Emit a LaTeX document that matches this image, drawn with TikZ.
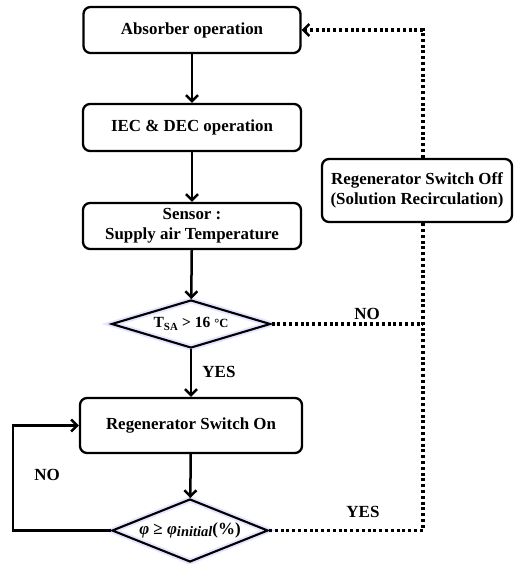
\documentclass[tikz,border=0pt]{standalone}
\usepackage{fontspec}
\setmainfont{Liberation Serif}
\usetikzlibrary{shapes.geometric,arrows.meta}
\begin{document}
\begin{tikzpicture}[x=1pt,y=-1pt,
  proc/.style={draw, rounded corners=7pt, line width=2.3pt, align=center, inner sep=0pt,
    font=\fontsize{16.9}{20}\selectfont\bfseries},
  decis/.style={draw, diamond, shape aspect=3.3, line width=2.1pt, inner sep=0pt,
    preaction={draw=blue!10, line width=6pt},
    font=\fontsize{15.5}{18}\selectfont\bfseries},
  flow/.style={line width=2.5pt, -{Straight Barb[length=6pt,width=12pt]}},
  dots/.style={line width=3.2pt, dash pattern=on 3pt off 2.8pt},
  lbl/.style={font=\fontsize{17}{20}\selectfont\bfseries, inner sep=0pt}
]
\useasboundingbox (0,0) rectangle (516,564);
\node[proc, minimum width=217pt, minimum height=46pt] (a1) at (192,30) {Absorber operation};
\node[proc, minimum width=218pt, minimum height=47pt] (a2) at (192,127.5) {IEC \& DEC operation};
\node[proc, minimum width=218pt, minimum height=46pt] (a3) at (192,226) {Sensor :\\Supply air Temperature};
\node[decis, minimum width=159pt, minimum height=48pt] (d1) at (191,324) {T\textsubscript{SA} > 16 {\fontsize{12.5}{12}\selectfont °C}};
\node[proc, minimum width=222pt, minimum height=55pt] (a4) at (191,425.5) {Regenerator Switch On};
\node[decis, minimum width=156pt, minimum height=63pt, font=\fontsize{17}{18}\selectfont\bfseries] (d2) at (190,530.5) {\itshape φ {\upshape ≥} φ\raisebox{-1.5pt}{\fontsize{14.5}{14}\selectfont initial}{\upshape(\%)}};
\node[proc, minimum width=190pt, minimum height=63pt] (off) at (417,190.5) {Regenerator Switch Off\\(Solution Recirculation)};
\coordinate (vx) at (423,0);
\coordinate (lx) at (13,0);

\draw[flow] (a1) -- (a2);
\draw[flow] (a2) -- (a3);
\draw[flow] (a3) -- (d1);
\draw[flow] (d1) -- (a4);
\draw[flow] (a4) -- (d2);
\draw[flow] (d2.west) -- (d2.west -| lx) |- (a4.west);
\draw[dots] (d1.east) -- (d1.east -| vx);
\draw[dots] (d2.east) -| (off.south -| vx);
\draw[dots, -{Straight Barb[length=6pt,width=12pt,line width=2.4pt]}] (off.north -| vx) |- (a1.east);

\node[lbl] (yes1) at (219,372) {YES};
\node[lbl] (no1) at (367,314) {NO};
\node[lbl] (no2) at (47,475) {NO};
\node[lbl] (yes2) at (363,512) {YES};
\end{tikzpicture}
\end{document}
